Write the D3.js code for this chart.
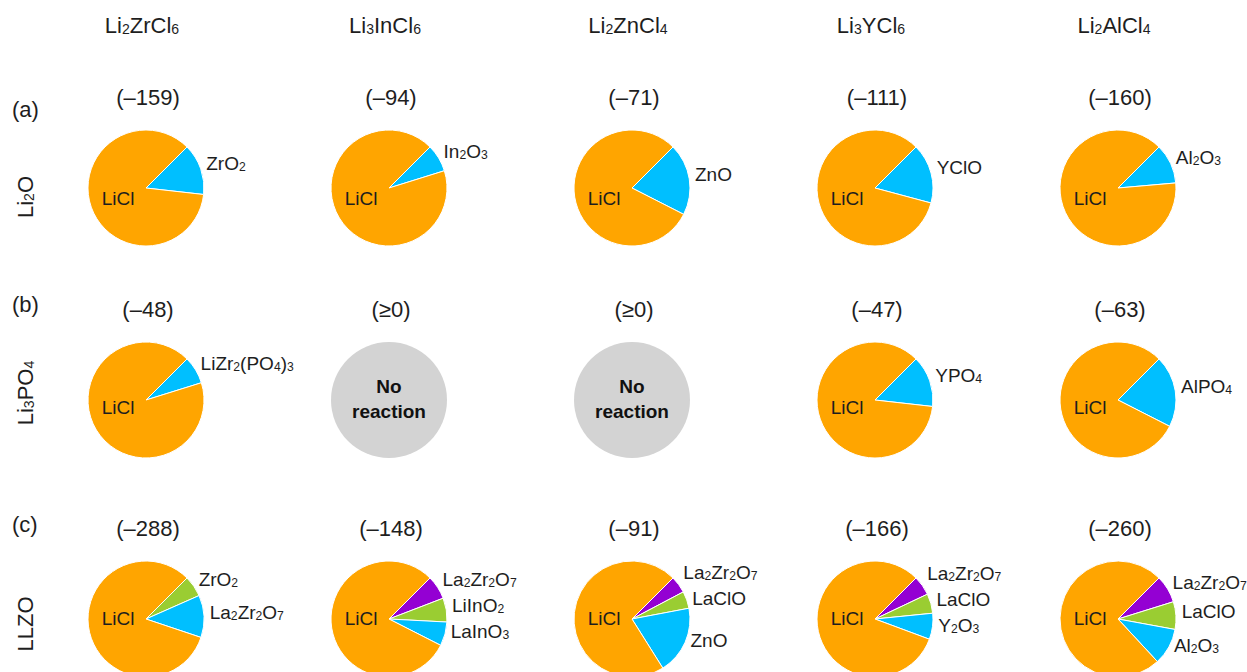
<!DOCTYPE html>
<html>
<head>
<meta charset="utf-8">
<script src="https://cdn.jsdelivr.net/npm/d3@7"></script>
<style>
  html, body { margin: 0; padding: 0; background: #fff; }
  svg { display: block; font-family: "Liberation Sans", Arial, sans-serif; }
</style>
</head>
<body>
<svg id="chart" width="1247" height="672"></svg>
<script>
// Chloride electrolytes (columns) reacting with oxide coatings (rows)
const solids = ["Li2ZrCl6", "Li3InCl6", "Li2ZnCl4", "Li3YCl6", "Li2AlCl4"];
const coatings = ["Li2O", "Li3PO4", "LLZO"];
const rowTags = ["(a)", "(b)", "(c)"];

// Reaction energies per row (null = no reaction, shown as "≥0")
const energyLi2O  = [-159, -94, -71, -111, -160];
const energyLi3PO4 = [-48, null, null, -47, -63];
const energyLLZO  = [-288, -148, -91, -166, -260];

// Product amounts (mol per reaction); minor phases listed clockwise, LiCl last
const productsLi2O = [
  [["ZrO2", 1], ["LiCl", 6]],
  [["In2O3", 0.5], ["LiCl", 6]],
  [["ZnO", 1], ["LiCl", 4]],
  [["YClO", 1], ["LiCl", 5]],
  [["Al2O3", 1], ["LiCl", 8]]
];
const productsLi3PO4 = [
  [["LiZr2(PO4)3", 1], ["LiCl", 12]],
  null,
  null,
  [["YPO4", 1], ["LiCl", 6]],
  [["AlPO4", 1], ["LiCl", 4]]
];
const productsLLZO = [
  [["ZrO2", 0.75], ["La2Zr2O7", 1.5], ["LiCl", 10.5]],
  [["La2Zr2O7", 1], ["LiInO2", 1], ["LaInO3", 1], ["LiCl", 12]],
  [["La2Zr2O7", 1], ["LaClO", 1], ["ZnO", 4], ["LiCl", 15]],
  [["La2Zr2O7", 1], ["LaClO", 1], ["Y2O3", 1.33], ["LiCl", 15]],
  [["La2Zr2O7", 1], ["LaClO", 1], ["Al2O3", 1.33], ["LiCl", 9.67]]
];

const energies = [energyLi2O, energyLi3PO4, energyLLZO];
const products = [productsLi2O, productsLi3PO4, productsLLZO];

// Colours: LiCl, then minor phases counted back from the last one
const colLiCl = "#FFA500";
const minorColors = ["#9400D3", "#9ACD32", "#00BFFF"];
const colNone = "#D3D3D3";
const textCol = "#1e1e1e";

// Layout
const W = 1247, H = 672, R = 58;
const x = d3.scalePoint().domain(solids).range([146, 1118]);
const y = d3.scaleOrdinal().domain(coatings).range([188, 400, 619]);
const tagBaseline = [117, 312, 532];
const coatingMid = [197, 393, 624];
const liclDy = [10, 7, -1];
const bigFont = 22, labelFont = 19;

const svg = d3.select("#chart");

// Write a formula with its digits as subscripts
function formula(sel, str, size) {
  const parts = str.match(/\d+|\D+/g);
  let shifted = false;
  parts.forEach(p => {
    const isSub = /^\d+$/.test(p);
    const t = sel.append("tspan").text(p);
    if (isSub) {
      t.attr("font-size", size * 0.64).attr("dy", shifted ? 0 : 1);
      shifted = true;
    } else {
      t.attr("font-size", size).attr("dy", shifted ? -1 : 0);
      shifted = false;
    }
  });
  return sel;
}

// Column headers
svg.selectAll("text.head").data(solids).join("text")
  .attr("class", "head")
  .attr("x", d => x(d) - 4)
  .attr("y", 33)
  .attr("text-anchor", "middle")
  .attr("fill", textCol)
  .each(function(d) { formula(d3.select(this), d, bigFont); });

// Row tags and rotated coating names
coatings.forEach((c, i) => {
  svg.append("text")
    .attr("x", 12).attr("y", tagBaseline[i])
    .attr("font-size", bigFont).attr("fill", textCol)
    .text(rowTags[i]);
  formula(svg.append("text")
    .attr("transform", `translate(33,${coatingMid[i]}) rotate(-90)`)
    .attr("text-anchor", "middle")
    .attr("fill", textCol), c, bigFont);
});

const pie = d3.pie().value(d => d[1]).sort(null)
  .startAngle(Math.PI / 4).endAngle(Math.PI / 4 + 2 * Math.PI);
const arc = d3.arc().innerRadius(0).outerRadius(R);

coatings.forEach((c, ri) => {
  solids.forEach((s, ci) => {
    const cx = x(s), cy = y(c);
    const g = svg.append("g").attr("transform", `translate(${cx},${cy})`);
    const e = energies[ri][ci];

    // energy label above the pie
    g.append("text")
      .attr("x", 2).attr("y", -83)
      .attr("text-anchor", "middle")
      .attr("font-size", bigFont).attr("fill", textCol)
      .text(e === null ? "(\u22650)" : `(\u2013${Math.abs(e)})`);

    const prod = products[ri][ci];
    if (!prod) {
      g.append("circle").attr("r", R).attr("fill", colNone);
      g.append("text").attr("y", -7).attr("text-anchor", "middle")
        .attr("font-size", 19).attr("font-weight", "bold").attr("fill", "#111")
        .text("No");
      g.append("text").attr("y", 18).attr("text-anchor", "middle")
        .attr("font-size", 19).attr("font-weight", "bold").attr("fill", "#111")
        .text("reaction");
      return;
    }

    const arcs = pie(prod);
    const nMinor = prod.length - 1;
    const color = (d, i) => d.data[0] === "LiCl" && i === nMinor
      ? colLiCl : minorColors[minorColors.length - nMinor + i];

    g.selectAll("path").data(arcs).join("path")
      .attr("d", arc)
      .attr("fill", color)
      .attr("stroke", "#fff")
      .attr("stroke-width", 1);

    // LiCl label inside the main slice
    g.append("text")
      .attr("x", -0.48 * R)
      .attr("y", liclDy[ri] + labelFont * 0.35)
      .attr("text-anchor", "middle")
      .attr("font-size", labelFont).attr("fill", textCol)
      .text("LiCl");

    // Minor-phase labels just outside their slices, spread apart vertically
    const labs = arcs.slice(0, nMinor).map(a => {
      const mid = (a.startAngle + a.endAngle) / 2;
      return { name: a.data[0], lx: 1.1 * R * Math.sin(mid), ly: -1.1 * R * Math.cos(mid) - 4 };
    });
    const gap = 26;
    for (let it = 0; it < 20; it++) {
      for (let k = 1; k < labs.length; k++) {
        const diff = labs[k].ly - labs[k - 1].ly;
        if (diff < gap) {
          const dd = (gap - diff) / 2;
          labs[k - 1].ly -= dd;
          labs[k].ly += dd;
        }
      }
    }
    labs.forEach(l => {
      formula(g.append("text")
        .attr("x", l.lx).attr("y", l.ly + labelFont * 0.35)
        .attr("fill", textCol), l.name, labelFont);
    });
  });
});
</script>
</body>
</html>
